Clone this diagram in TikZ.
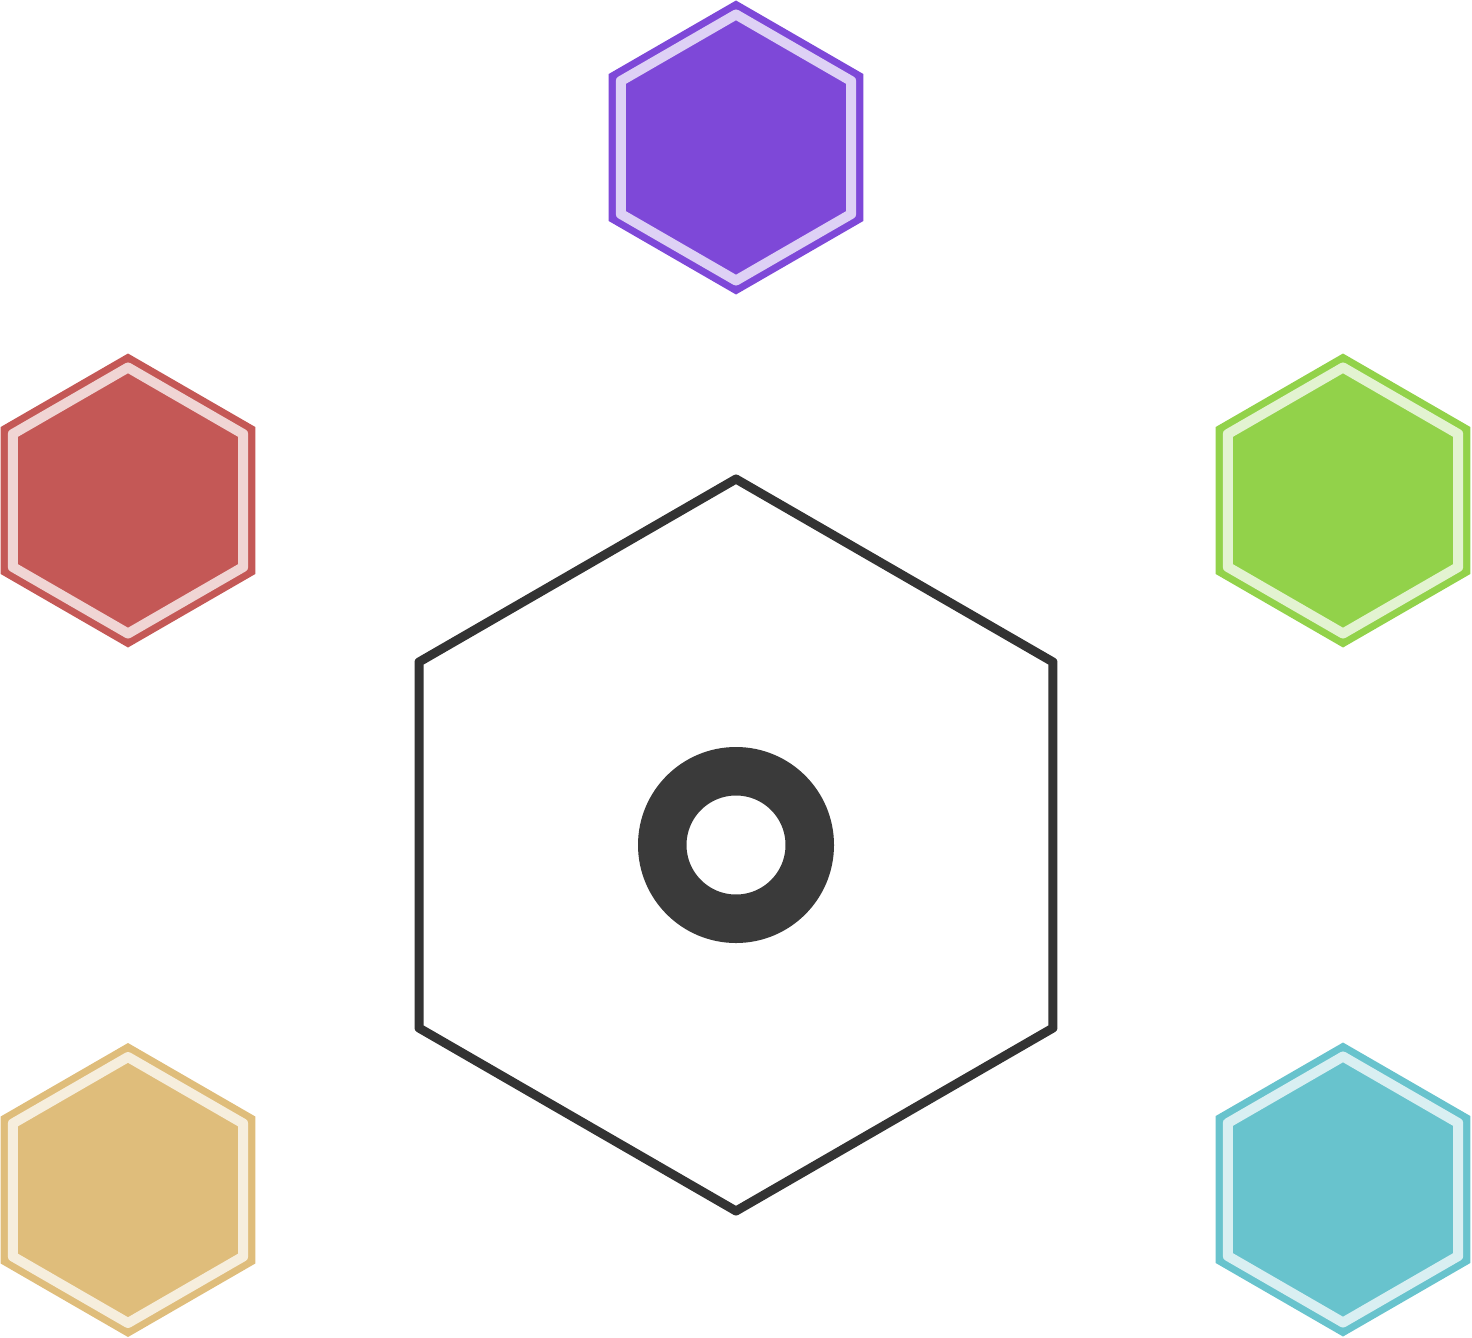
\documentclass[tikz,border=0pt]{standalone}
\definecolor{cpurple}{HTML}{7E48D8}
\definecolor{cred}{HTML}{C45856}
\definecolor{cgreen}{HTML}{92D24A}
\definecolor{cyellow}{HTML}{DFBD7B}
\definecolor{ccyan}{HTML}{68C3CD}
\definecolor{cdark}{HTML}{333333}
\definecolor{cring}{HTML}{3A3A3A}
\newcommand\hexshape[1]{(30:#1) -- (90:#1) -- (150:#1) -- (210:#1) -- (270:#1) -- (330:#1) -- cycle}
\tikzset{
  hexfill/.style={fill=#1},
  hexinner/.style={draw=white, draw opacity=0.75, line width=10pt, line join=round},
  bighex/.style={draw=cdark, line width=9pt, line join=round},
}
\begin{document}
\begin{tikzpicture}[x=1pt,y=-1pt]
\useasboundingbox (0,0) rectangle (1472,1338);
\coordinate (center) at (736,845);
\coordinate (purple) at (736,147.5);
\coordinate (red) at (128,500.5);
\coordinate (green) at (1343,500.5);
\coordinate (yellow) at (128,1190);
\coordinate (cyan) at (1343,1189.5);
% central hexagon
\draw[bighex, shift={(center)}] \hexshape{366};
% ring
\draw[cring, line width=48.5pt] (center) circle[radius=73.75];
% small hexagons
\foreach \n/\c in {purple/cpurple, red/cred, green/cgreen, yellow/cyellow, cyan/ccyan}{
  \fill[hexfill=\c, shift={(\n)}] \hexshape{147};
  \draw[hexinner, shift={(\n)}] \hexshape{133};
}
\end{tikzpicture}
\end{document}
